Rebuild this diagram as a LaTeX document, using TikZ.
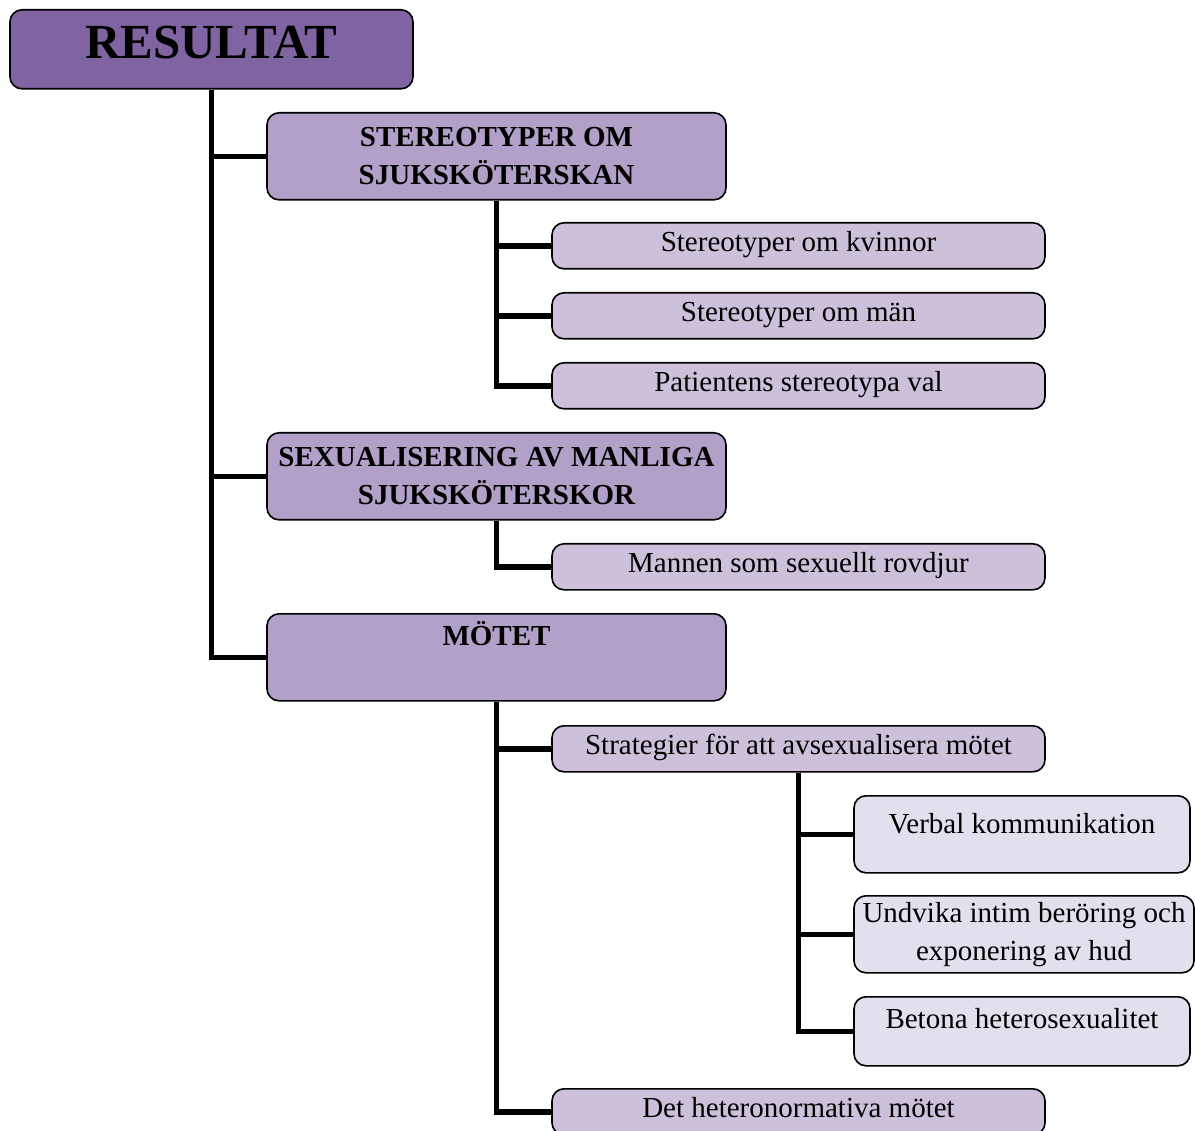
\documentclass[tikz,border=0pt]{standalone}
\usepackage{fontspec}
\setmainfont{Liberation Serif}
\usepackage{tikz}
\usepackage{xcolor}

\definecolor{rescol}{HTML}{8064A2}
\definecolor{catcol}{HTML}{B1A0C7}
\definecolor{subcol}{HTML}{CCC0DA}
\definecolor{leafcol}{HTML}{E4DFEC}

\begin{document}
\begin{tikzpicture}[x=1pt, y=-1pt,
  box/.style={draw=black, line width=1.6pt, rounded corners=12pt, anchor=north, inner sep=0pt, align=center, font=\fontsize{29}{38}\selectfont},
  resbox/.style={box, fill=rescol, minimum width=403pt, minimum height=79pt, font=\fontsize{49}{52}\selectfont\bfseries, text height=44pt, text depth=25pt},
  catbox/.style={box, fill=catcol, minimum width=459pt, minimum height=87pt, font=\fontsize{29}{38}\selectfont\bfseries},
  subbox/.style={box, fill=subcol, minimum width=493pt, minimum height=46pt, text height=26pt, text depth=14pt},
  leafbox/.style={box, fill=leafcol, minimum width=336pt, minimum height=#1},
  link/.style={line width=5.5pt}]
  \useasboundingbox (0,0) rectangle (1195,1131);

  \node (r) [resbox] at (211.5,9) {RESULTAT};

  \node (a) [catbox] at (496.5,112) {STEREOTYPER OM\\SJUKSKÖTERSKAN};
  \node (a1) [subbox] at (798.5,222) {Stereotyper om kvinnor};
  \node (a2) [subbox] at (798.5,292) {Stereotyper om män};
  \node (a3) [subbox] at (798.5,362) {Patientens stereotypa val};

  \node (b) [catbox] at (496.5,432) {SEXUALISERING AV MANLIGA\\SJUKSKÖTERSKOR};
  \node (b1) [subbox] at (798.5,543) {Mannen som sexuellt rovdjur};

  \node (c) [catbox, text height=26pt, text depth=49pt] at (496.5,613) {MÖTET};
  \node (c1) [subbox] at (798.5,725) {Strategier för att avsexualisera mötet};
  \node (c11) [leafbox=77pt, text height=26pt, text depth=27pt] at (1022,795) {Verbal kommunikation};
  \node (c12) [leafbox=77pt, minimum width=340pt] at (1024,895) {Undvika intim beröring och\\exponering av hud};
  \node (c13) [leafbox=69pt, text height=26pt, text depth=32pt] at (1022,996) {Betona heterosexualitet};
  \node (c2) [subbox] at (798.5,1088) {Det heteronormativa mötet};

  % trunk and branches
  \draw [link] (r.south) |- (a.west);
  \draw [link] (r.south) |- (b.west);
  \draw [link] (r.south) |- (c.west);
  \draw [link] (a.south) |- (a1.west);
  \draw [link] (a.south) |- (a2.west);
  \draw [link] (a.south) |- (a3.west);
  \draw [link] (b.south) |- (b1.west);
  \draw [link] (c.south) |- (c1.west);
  \draw [link] (c.south) |- (c2.west);
  \draw [link] (c1.south) |- (c11.west);
  \draw [link] (c1.south) |- (c12.west);
  \draw [link] (c1.south) |- (c13.west);
\end{tikzpicture}
\end{document}
